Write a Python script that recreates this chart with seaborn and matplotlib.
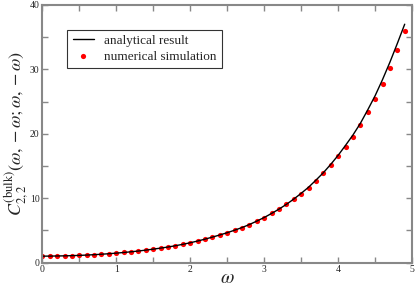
import numpy as np
import pandas as pd
import seaborn as sns
import matplotlib.pyplot as plt
from matplotlib.ticker import MultipleLocator

# omega grid and values
omega = [0.0, 0.1, 0.2, 0.3, 0.4, 0.5, 0.6, 0.7, 0.8, 0.9,
         1.0, 1.1, 1.2, 1.3, 1.4, 1.5, 1.6, 1.7, 1.8, 1.9,
         2.0, 2.1, 2.2, 2.3, 2.4, 2.5, 2.6, 2.7, 2.8, 2.9,
         3.0, 3.1, 3.2, 3.3, 3.4, 3.5, 3.6, 3.7, 3.8, 3.9,
         4.0, 4.1, 4.2, 4.3, 4.4, 4.5, 4.6, 4.7, 4.8, 4.9]

numerical = [1.00, 1.01, 1.03, 1.05, 1.08, 1.12, 1.17, 1.23, 1.30, 1.38,
             1.47, 1.57, 1.68, 1.80, 1.94, 2.09, 2.25, 2.42, 2.62, 2.84,
             3.08, 3.35, 3.64, 3.96, 4.29, 4.64, 5.03, 5.44, 5.91, 6.44,
             7.00, 7.63, 8.30, 9.04, 9.86, 10.7, 11.6, 12.7, 13.85, 15.1,
             16.5, 18.0, 19.5, 21.3, 23.3, 25.4, 27.7, 30.2, 33.0, 36.0]

analytical = [1.00, 1.01, 1.03, 1.05, 1.08, 1.12, 1.17, 1.23, 1.30, 1.38,
              1.47, 1.57, 1.68, 1.80, 1.94, 2.09, 2.25, 2.42, 2.62, 2.84,
              3.08, 3.35, 3.64, 3.96, 4.29, 4.64, 5.03, 5.44, 5.91, 6.44,
              7.00, 7.63, 8.30, 9.04, 9.86, 10.75, 11.7, 12.8, 13.95, 15.25,
              16.65, 18.2, 19.8, 21.6, 23.7, 25.9, 28.4, 31.1, 34.0, 37.0]

df = pd.DataFrame({'omega': omega, 'numerical': numerical, 'analytical': analytical})

sns.set_style('ticks')
plt.rcParams['font.family'] = ['Liberation Serif', 'DejaVu Serif']
plt.rcParams['mathtext.fontset'] = 'stix'

fig = plt.figure(figsize=(4.15, 2.87), dpi=100)
ax = fig.add_axes([0.102, 0.085, 0.891, 0.898])

sns.lineplot(data=df, x='omega', y='analytical', ax=ax, color='black',
             linewidth=1.0, label='analytical result')
sns.scatterplot(data=df, x='omega', y='numerical', ax=ax, color='red',
                s=14, linewidth=0, label='numerical simulation')

ax.set_xlim(0, 5)
ax.set_ylim(0, 40)
ax.xaxis.set_major_locator(MultipleLocator(1))
ax.xaxis.set_minor_locator(MultipleLocator(0.5))
ax.yaxis.set_major_locator(MultipleLocator(10))
ax.yaxis.set_minor_locator(MultipleLocator(5))
ax.tick_params(which='both', direction='in', top=True, right=True,
               color='#888888', width=1.0, labelsize=7, pad=2)
ax.tick_params(which='major', length=4)
ax.tick_params(which='minor', length=4)
for sp in ax.spines.values():
    sp.set_color('#888888')
    sp.set_linewidth(1.5)

ax.set_xlabel(r'$\omega$', fontsize=14, labelpad=-3)
ax.set_ylabel(r'$C^{(\mathrm{bulk})}_{2,2}(\omega,-\omega;\omega,-\omega)$',
              fontsize=13)
ax.yaxis.set_label_coords(-0.03, 0.5)

leg = ax.legend(loc='upper left', bbox_to_anchor=(0.05, 0.93), fontsize=9.5,
                frameon=True, fancybox=False, handlelength=1.6,
                borderpad=0.4, labelspacing=0.25, handletextpad=0.8)
leg.get_frame().set_edgecolor('black')
leg.get_frame().set_linewidth(0.8)

fig.savefig('out.png', dpi=100)
